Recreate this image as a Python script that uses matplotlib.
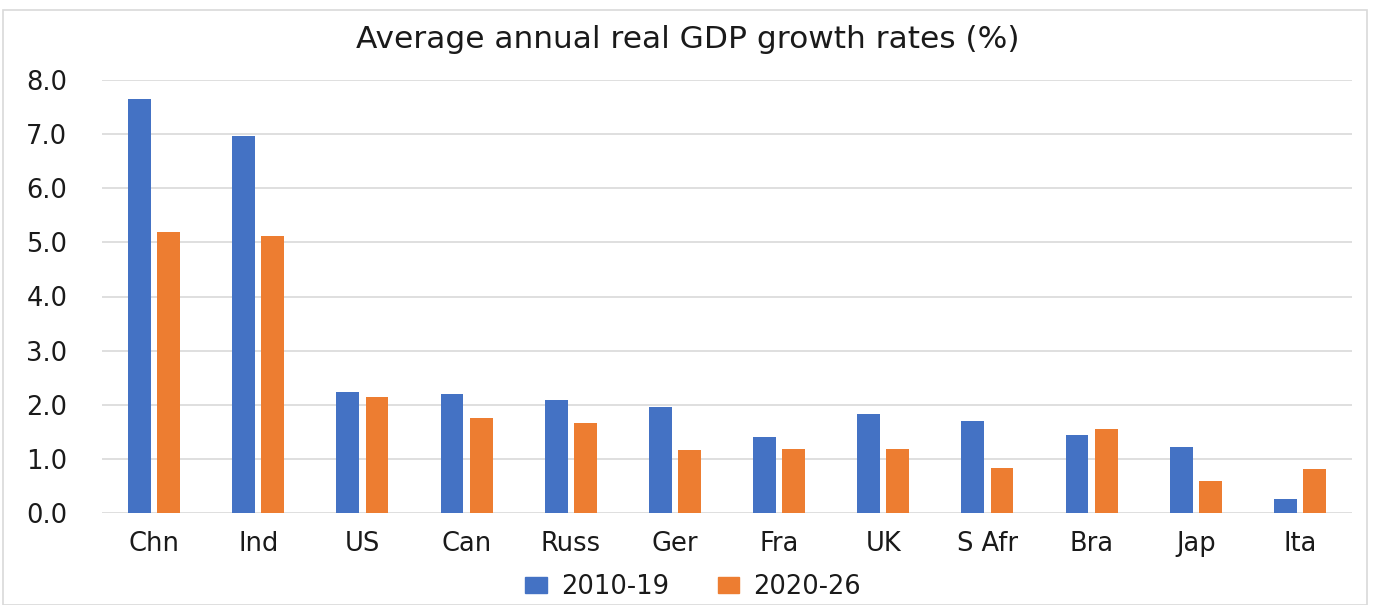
import matplotlib
matplotlib.use("Agg")
import matplotlib.pyplot as plt
from matplotlib.patches import Rectangle, Patch
import numpy as np

categories = ["Chn", "Ind", "US", "Can", "Russ", "Ger", "Fra", "UK", "S Afr", "Bra", "Jap", "Ita"]
growth_2010_19 = [7.64, 6.96, 2.23, 2.20, 2.08, 1.96, 1.41, 1.82, 1.70, 1.45, 1.22, 0.25]
growth_2020_26 = [5.20, 5.11, 2.14, 1.75, 1.67, 1.17, 1.18, 1.19, 0.84, 1.56, 0.59, 0.81]
series_labels = ["2010-19", "2020-26"]
yticks = [0, 1, 2, 3, 4, 5, 6, 7, 8]

blue = "#4472C4"
orange = "#ED7D31"
text_col = "#1a1a1a"

fig = plt.figure(figsize=(13.75, 6.05), dpi=100)
fig.patches.append(Rectangle((3/1375, 0.0), 1364/1375, 1 - 10/605, transform=fig.transFigure,
                             fill=False, edgecolor="#d9d9d9", linewidth=1.2))
ax = fig.add_axes([102/1375, 1 - 513/605, 1250/1375, (513 - 80)/605])

x = np.arange(len(categories))
w = 0.22
off = 0.14
ax.bar(x - off, growth_2010_19, width=w, color=blue, label=series_labels[0], zorder=3)
ax.bar(x + off, growth_2020_26, width=w, color=orange, label=series_labels[1], zorder=3)

ax.set_xlim(-0.5, len(categories) - 0.5)
ax.set_ylim(0, 8)
ax.set_yticks(yticks)
ax.set_yticklabels([f"{v:.1f}" for v in yticks])
ax.set_xticks(x)
ax.set_xticklabels(categories)
ax.grid(axis="y", color="#d9d9d9", linewidth=1.2, zorder=0)
for s in ax.spines.values():
    s.set_visible(False)
ax.tick_params(axis="both", length=0, labelsize=18.5, labelcolor=text_col)
ax.tick_params(axis="y", pad=25)
ax.tick_params(axis="x", pad=13)

fig.text(0.5, 1 - 40/605, "Average annual real GDP growth rates (%)", ha="center", va="center",
         fontsize=22.5, color=text_col)

handles = [Patch(color=blue), Patch(color=orange)]
fig.legend(handles, series_labels, loc="center", bbox_to_anchor=(693/1375, 1 - 587/605), ncol=2,
           frameon=False, fontsize=18.5, handlelength=0.85, handleheight=0.6, columnspacing=1.9,
           handletextpad=0.55, labelcolor=text_col, borderpad=0.1)

fig.savefig("out.png", dpi=100)
